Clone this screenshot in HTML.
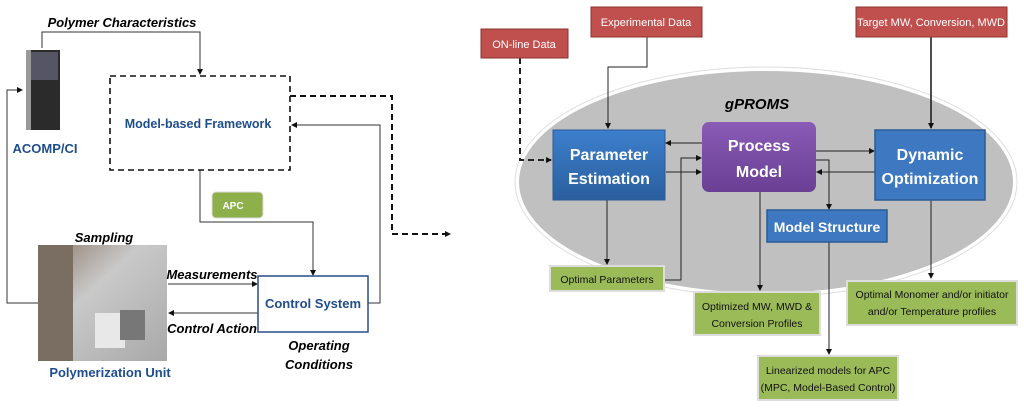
<!DOCTYPE html>
<html><head><meta charset="utf-8"><style>
body{margin:0;background:#fff;}
svg{display:block;font-family:"Liberation Sans",sans-serif;}
</style></head><body>
<svg width="1024" height="417" viewBox="0 0 1024 417" xmlns="http://www.w3.org/2000/svg">
<defs>
<marker id="a" markerWidth="6" markerHeight="6" refX="5" refY="3" orient="auto" markerUnits="userSpaceOnUse"><path d="M0,0 L6,3 L0,6z" fill="#111"/></marker>
<linearGradient id="blue" x1="0" y1="0" x2="0" y2="1"><stop offset="0" stop-color="#3d7fcc"/><stop offset="1" stop-color="#2a5f9e"/></linearGradient>
<linearGradient id="purp" x1="0" y1="0" x2="0" y2="1"><stop offset="0" stop-color="#8a5bb5"/><stop offset="1" stop-color="#6a3f94"/></linearGradient>
<linearGradient id="ph" x1="0" y1="0" x2="1" y2="1"><stop offset="0" stop-color="#8a7868"/><stop offset="0.4" stop-color="#c9c9c9"/><stop offset="1" stop-color="#a8a8a8"/></linearGradient>
</defs>
<g fill="none" stroke="#333" stroke-width="1">
<polyline points="42,48 42,32 200,32 200,74" marker-end="url(#a)"/>
<polyline points="38,303 7,303 7,90 22,90" marker-end="url(#a)"/>
<polyline points="200,170 200,222 313,222 313,275" marker-end="url(#a)"/>
<polyline points="368,303 380,303 380,125 292,125" marker-end="url(#a)"/>
<line x1="168" y1="284" x2="257" y2="284" marker-end="url(#a)"/>
<line x1="258" y1="313" x2="169" y2="313" marker-end="url(#a)"/>
</g>
<rect x="110" y="76" width="180" height="94" fill="#fff" stroke="#111" stroke-width="1.6" stroke-dasharray="6,4"/>
<polyline points="290,96 392,96 392,234 450,234" fill="none" stroke="#111" stroke-width="2" stroke-dasharray="6,4" marker-end="url(#a)"/>
<text x="198" y="128" font-size="12.5" font-weight="bold" fill="#1f4e8c" text-anchor="middle">Model-based Framework</text>
<text x="122" y="27" font-size="13" font-weight="bold" font-style="italic" text-anchor="middle">Polymer Characteristics</text>
<rect x="26" y="50" width="34" height="80" fill="#2b2b2b"/>
<rect x="28" y="52" width="30" height="28" fill="#556"/>
<rect x="26" y="50" width="5" height="80" fill="#999"/>
<text x="45" y="153" font-size="13" font-weight="bold" fill="#1f4e8c" text-anchor="middle">ACOMP/CI</text>
<rect x="212" y="192" width="51" height="26" rx="4" fill="#8db04a" stroke="#ddd"/>
<text x="233" y="209" font-size="10" font-weight="bold" fill="#fff" text-anchor="middle">APC</text>
<text x="104" y="242" font-size="13" font-weight="bold" font-style="italic" text-anchor="middle">Sampling</text>
<rect x="38" y="245" width="129" height="116" fill="url(#ph)"/>
<rect x="38" y="245" width="35" height="116" fill="#7a6e62"/>
<rect x="95" y="313" width="30" height="35" fill="#e8e8e8"/>
<rect x="120" y="310" width="25" height="30" fill="#777"/>
<text x="110" y="377" font-size="13" font-weight="bold" fill="#1f4e8c" text-anchor="middle">Polymerization Unit</text>
<rect x="258" y="276" width="110" height="56" fill="#fff" stroke="#2a4d8a" stroke-width="1.5"/>
<text x="313" y="308" font-size="13" font-weight="bold" fill="#1f4e8c" text-anchor="middle">Control System</text>
<text x="212" y="279" font-size="13" font-weight="bold" font-style="italic" text-anchor="middle">Measurements</text>
<text x="212" y="333" font-size="13" font-weight="bold" font-style="italic" text-anchor="middle">Control Action</text>
<text x="319" y="350" font-size="13" font-weight="bold" font-style="italic" text-anchor="middle">Operating</text>
<text x="319" y="369" font-size="13" font-weight="bold" font-style="italic" text-anchor="middle">Conditions</text>
<ellipse cx="766" cy="182" rx="248" ry="112" fill="#c0c0c0" stroke="#fff" stroke-width="2"/>
<ellipse cx="766" cy="182" rx="251" ry="115" fill="none" stroke="#ddd" stroke-width="1"/>
<text x="757" y="109" font-size="15" font-weight="bold" font-style="italic" text-anchor="middle">gPROMS</text>
<g fill="none" stroke="#222" stroke-width="1">
<polyline points="520,58 520,160 551,160" stroke-width="2" stroke-dasharray="6,4" marker-end="url(#a)"/>
<polyline points="647,37 647,67 608,67 608,128" marker-end="url(#a)"/>
<line x1="931" y1="37" x2="931" y2="128" stroke-width="1.6" marker-end="url(#a)"/>
<line x1="702" y1="143" x2="666" y2="143" marker-end="url(#a)"/>
<line x1="666" y1="172" x2="701" y2="172" marker-end="url(#a)"/>
<polyline points="664,280 681,280 681,158 701,158" marker-end="url(#a)"/>
<line x1="816" y1="151" x2="874" y2="151" marker-end="url(#a)"/>
<line x1="875" y1="172" x2="817" y2="172" marker-end="url(#a)"/>
<polyline points="816,160 829,160 829,209" marker-end="url(#a)"/>
<line x1="760" y1="192" x2="760" y2="290" marker-end="url(#a)"/>
<line x1="607" y1="200" x2="607" y2="264" marker-end="url(#a)"/>
<line x1="931" y1="200" x2="931" y2="278" marker-end="url(#a)"/>
<line x1="829" y1="242" x2="829" y2="354" marker-end="url(#a)"/>
</g>
<g fill="#c0504d" stroke="#8c3330" stroke-width="1">
<rect x="481" y="29" width="87" height="29"/>
<rect x="591" y="7" width="111" height="30"/>
<rect x="856" y="7" width="151" height="30"/>
</g>
<g fill="#fff" font-size="11" text-anchor="middle">
<text x="524" y="48">ON-line Data</text>
<text x="646" y="26">Experimental Data</text>
<text x="931" y="26">Target MW, Conversion, MWD</text>
</g>
<rect x="553" y="130" width="112" height="70" fill="url(#blue)" stroke="#2a5a96"/>
<rect x="702" y="122" width="114" height="70" rx="7" fill="url(#purp)"/>
<rect x="875" y="130" width="110" height="70" fill="#3d78c0" stroke="#2a5a96" stroke-width="1.5"/>
<rect x="767" y="210" width="120" height="32" fill="#3d78c0" stroke="#2a5a96" stroke-width="1.5"/>
<g fill="#fff" font-size="16" font-weight="bold" text-anchor="middle">
<text x="609" y="160">Parameter</text><text x="609" y="184">Estimation</text>
<text x="759" y="151">Process</text><text x="759" y="177">Model</text>
<text x="930" y="160">Dynamic</text><text x="930" y="184">Optimization</text>
<text x="827" y="232" font-size="14">Model Structure</text>
</g>
<g fill="#9bbb59" stroke="#ddd" stroke-width="2">
<rect x="550" y="266" width="114" height="25"/>
<rect x="694" y="292" width="126" height="43"/>
<rect x="847" y="281" width="170" height="44"/>
<rect x="758" y="356" width="140" height="44"/>
</g>
<g fill="#111" font-size="10.5" text-anchor="middle">
<text x="607" y="283">Optimal Parameters</text>
<text x="757" y="310">Optimized MW, MWD &amp;</text><text x="757" y="327">Conversion Profiles</text>
<text x="932" y="298">Optimal Monomer and/or initiator</text><text x="932" y="315">and/or Temperature profiles</text>
<text x="828" y="374">Linearized models for APC</text><text x="828" y="391">(MPC, Model-Based Control)</text>
</g>
</svg>
</body></html>
